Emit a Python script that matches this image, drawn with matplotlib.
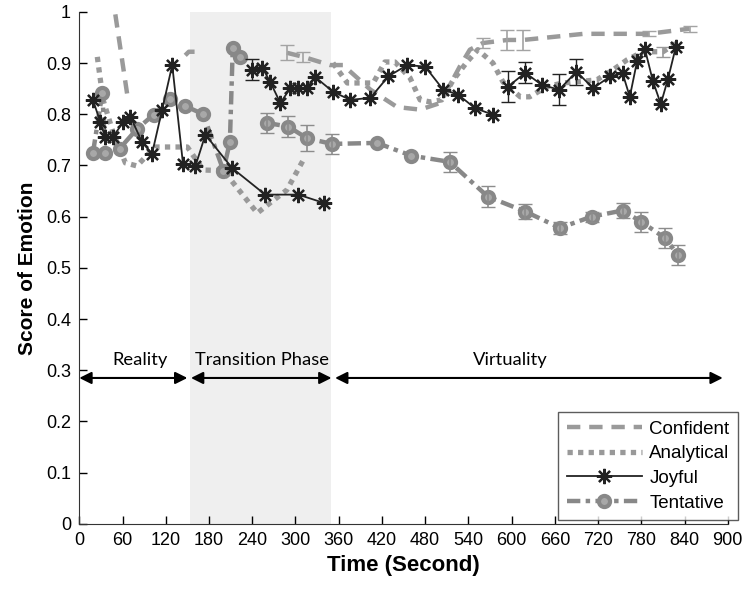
import numpy as np
import matplotlib
matplotlib.use("Agg")
import matplotlib.pyplot as plt

nan = np.nan

# Confident (dashed)
conf_t = [50, 67, nan, 147, 152, 160, nan, 288, 311, 348, 366, 404, 441, 473, 501, 528, 542, 560, 594, 616, 700, 790, 847]
conf_v = [0.995, 0.834, nan, 0.915, 0.922, 0.922, nan, 0.92, 0.912, 0.896, 0.896, 0.848, 0.814, 0.809, 0.822, 0.893, 0.926, 0.939, 0.945, 0.945, 0.957, 0.957, 0.967]
conf_err_t = [288, 311, 560, 594, 616, 790, 847]
conf_err_v = [0.92, 0.912, 0.939, 0.945, 0.945, 0.957, 0.967]
conf_err = [0.015, 0.01, 0.01, 0.02, 0.02, 0.005, 0.006]

# Analytical (dotted)
anal_t = [25, 33, 47, 64, 80, 105, 122, 150, 172, 200, 247, 265, 288, 311, nan,
          352, 372, 408, 424, 438, 459, 473, 487, 503, 519, 538, 553, 574, 588, 612, 625, 649, 671, 718, 741, 760, 782, 810, 829]
anal_v = [0.912, 0.828, 0.764, 0.705, 0.699, 0.736, 0.736, 0.736, 0.691, 0.69, 0.607, 0.627, 0.652, 0.711, nan,
          0.90, 0.861, 0.861, 0.902, 0.902, 0.871, 0.828, 0.824, 0.828, 0.867, 0.902, 0.926, 0.90, 0.863, 0.834, 0.834, 0.854, 0.861, 0.867, 0.887, 0.906, 0.922, 0.922, 0.939]
anal_err_t = [810]
anal_err_v = [0.922]
anal_err = [0.01]

# Joyful (solid with stars)
joy_t = [19, 29, 36, 47, 61, 71, 87, 101, 115, 129, 144, 161, 175, 212, 258, 304, 339, nan,
         240, 254, 265, 279, 293, 304, 316, 327, 352, 376, 404, 429, 455, 480, 505, 526, 549, 574, nan,
         595, 619, 642, 666, 690, 713, 737, 754, 764, 774, 785, 796, 807, 817, 828]
joy_v = [0.828, 0.785, 0.755, 0.756, 0.785, 0.795, 0.746, 0.723, 0.809, 0.896, 0.702, 0.698, 0.76, 0.695, 0.643, 0.643, 0.627, nan,
         0.887, 0.891, 0.863, 0.822, 0.851, 0.851, 0.851, 0.873, 0.844, 0.828, 0.832, 0.874, 0.896, 0.893, 0.848, 0.838, 0.812, 0.799, nan,
         0.854, 0.881, 0.857, 0.848, 0.883, 0.851, 0.874, 0.88, 0.834, 0.903, 0.927, 0.865, 0.82, 0.869, 0.932]
joy_err_t = [240, 595, 619, 666, 690]
joy_err_v = [0.887, 0.854, 0.881, 0.848, 0.883]
joy_err = [0.02, 0.03, 0.02, 0.03, 0.025]

# Tentative (dash-dot with circles)
tent_t = [19, 32, 36, 56, 80, 103, 126, 147, 172, 200, 209, 213, 223, nan,
          260, 290, 316, 351, 413, 461, 514, 567, 619, 667, 711, 754, 780, 813, 831]
tent_v = [0.725, 0.842, 0.725, 0.733, 0.771, 0.799, 0.83, 0.816, 0.80, 0.69, 0.746, 0.93, 0.912, nan,
          0.783, 0.776, 0.753, 0.742, 0.744, 0.719, 0.707, 0.639, 0.61, 0.578, 0.60, 0.612, 0.59, 0.558, 0.525]
tent_err_t = [260, 290, 316, 351, 514, 567, 619, 667, 711, 754, 780, 813, 831]
tent_err_v = [0.783, 0.776, 0.753, 0.742, 0.707, 0.639, 0.61, 0.578, 0.60, 0.612, 0.59, 0.558, 0.525]
tent_err = [0.02, 0.02, 0.025, 0.02, 0.02, 0.02, 0.015, 0.012, 0.01, 0.015, 0.02, 0.02, 0.02]

phases = ["Reality", "Transition Phase", "Virtuality"]
phase_start = [0, 155, 355]
phase_end = [150, 350, 893]
arrow_y = 0.285

plt.rcParams["font.family"] = ["Liberation Sans", "DejaVu Sans"]

fig = plt.figure(figsize=(7.48, 5.9), dpi=100)
ax = fig.add_axes([0.106, 0.112, 0.867, 0.868])

ax.axvspan(153, 350, color="#efefef", zorder=0, lw=0)

ax.plot(conf_t, conf_v, ls=(0, (3, 2)), color="#9a9a9a", lw=3.2, label="Confident", zorder=2)
ax.errorbar(conf_err_t, conf_err_v, yerr=conf_err, fmt="none", ecolor="#a3a3a3", elinewidth=1.2, capsize=5, zorder=2)

ax.plot(anal_t, anal_v, ls=(0, (1, 1)), color="#999999", lw=3.8, label="Analytical", zorder=2)
ax.errorbar(anal_err_t, anal_err_v, yerr=anal_err, fmt="none", ecolor="#999999", elinewidth=1.2, capsize=5, zorder=2)

ax.plot(tent_t, tent_v, ls=(0, (3, 1.2, 1, 1.2)), color="#888888", lw=3.2, marker="o", ms=8,
        mfc="#a8a8a8", mec="#888888", mew=3, label="Tentative", zorder=3)
ax.errorbar(tent_err_t, tent_err_v, yerr=tent_err, fmt="none", ecolor="#8c8c8c", elinewidth=1.2, capsize=5, zorder=3)

ax.plot(joy_t, joy_v, ls="-", color="#222222", lw=1.3, marker=(8, 2, 0), ms=11, mew=1.6,
        label="Joyful", zorder=4)
ax.errorbar(joy_err_t, joy_err_v, yerr=joy_err, fmt="none", ecolor="#222222", elinewidth=1.0, capsize=5, zorder=4)

label_x = [85, 254, 598]
for name, x0, x1, lx in zip(phases, phase_start, phase_end, label_x):
    ax.annotate("", xy=(x0, arrow_y), xytext=(x1, arrow_y),
                arrowprops=dict(arrowstyle="<|-|>", color="black", lw=1.5,
                                mutation_scale=18, shrinkA=0, shrinkB=0))
    ax.text(lx, arrow_y + 0.02, name, ha="center", va="bottom", fontsize=13.2,
            family=["Lato", "DejaVu Sans"])

ax.set_xlim(0, 900)
ax.set_ylim(0, 1)
ax.set_xticks(np.arange(0, 901, 60))
ax.set_yticks(np.arange(0, 1.01, 0.1))
ax.set_yticklabels(["0", "0.1", "0.2", "0.3", "0.4", "0.5", "0.6", "0.7", "0.8", "0.9", "1"])
ax.tick_params(direction="in", labelsize=13, length=6, width=1, pad=6)
for s in ["top", "right"]:
    ax.spines[s].set_visible(False)
ax.spines["left"].set_color("#333333")
ax.spines["bottom"].set_color("#333333")

ax.set_xlabel("Time (Second)", fontsize=16, fontweight="bold", labelpad=4)
ax.set_ylabel("Score of Emotion", fontsize=15, fontweight="bold", labelpad=6)

handles, labels = ax.get_legend_handles_labels()
order = ["Confident", "Analytical", "Joyful", "Tentative"]
hmap = dict(zip(labels, handles))
leg = ax.legend([hmap[k] for k in order], order, loc="lower right",
                bbox_to_anchor=(738 / 748, 70 / 590), bbox_transform=fig.transFigure,
                frameon=True, fancybox=False, edgecolor="#333333", handlelength=4.0,
                borderaxespad=0, labelspacing=0.4, handletextpad=0.4, borderpad=0.45,
                prop={"size": 13.5})
leg.get_frame().set_linewidth(1.0)

fig.savefig("out.png", dpi=100)
